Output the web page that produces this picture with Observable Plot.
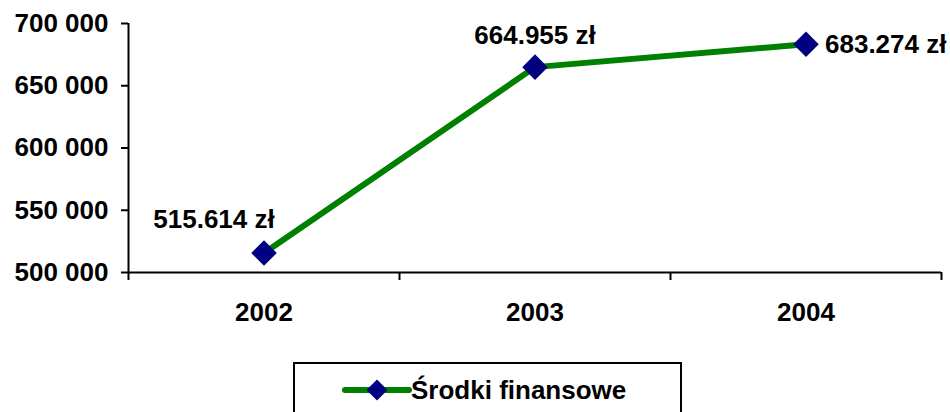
<!DOCTYPE html>
<html>
<head>
<meta charset="utf-8">
<script src="https://cdn.jsdelivr.net/npm/d3@7"></script>
<script src="https://cdn.jsdelivr.net/npm/@observablehq/plot@0.6"></script>
<style>
  html, body { margin: 0; padding: 0; background: #fff; width: 950px; height: 412px; overflow: hidden; }
  #chart { position: relative; width: 950px; height: 412px; font-family: Arial, "Liberation Sans", sans-serif; }
  #legend { position: absolute; left: 293px; top: 362px; width: 389px; height: 70px; border: 2px solid #000; box-sizing: border-box; }
  #legend svg { position: absolute; left: 0; top: 0; }
</style>
</head>
<body>
<div id="chart"></div>
<script>
const years = [2002, 2003, 2004];
const values = [515614, 664955, 683274];
const valueLabels = ["515.614 zł", "664.955 zł", "683.274 zł"];
const yTicks = [500000, 550000, 600000, 650000, 700000];
const seriesName = "Środki finansowe";

const data = years.map((y, i) => ({year: y, value: values[i], label: valueLabels[i]}));
const green = "#008000";
const navy = "#000080";
const font = "Arial, 'Liberation Sans', sans-serif";
const fs = 26;
const fmt = d => d3.format(",")(d).replace(/,/g, " ");
const boundaries = [years[0] - 0.5, ...years.map(y => y + 0.5)];

const chart = Plot.plot({
  width: 950,
  height: 345,
  marginLeft: 128,
  marginRight: 9,
  marginTop: 23,
  marginBottom: 73,
  style: {fontFamily: font, fontSize: fs + "px", fontWeight: "bold", color: "#000", background: "transparent"},
  x: {domain: [years[0] - 0.5, years[years.length - 1] + 0.5]},
  y: {domain: [yTicks[0], yTicks[yTicks.length - 1]]},
  marks: [
    Plot.axisY({ticks: yTicks, tickFormat: fmt, tickSize: 7, tickPadding: 13, strokeWidth: 2, label: null, fontSize: fs, fontWeight: "bold"}),
    Plot.axisX({ticks: years, tickFormat: d => String(d), tickSize: 0, tickPadding: 30, label: null, fontSize: fs, fontWeight: "bold"}),
    Plot.axisX({ticks: boundaries, tickFormat: () => "", tickSize: 8, strokeWidth: 2, label: null}),
    Plot.ruleY([yTicks[0]], {stroke: "#000", strokeWidth: 2}),
    Plot.ruleX([boundaries[0]], {y1: yTicks[0], y2: yTicks[yTicks.length - 1], stroke: "#000", strokeWidth: 2}),
    Plot.line(data, {x: "year", y: "value", stroke: green, strokeWidth: 6}),
    Plot.dot(data, {x: "year", y: "value", symbol: "diamond2", r: 11.5, fill: navy, stroke: null}),
    Plot.text(data.filter((d, i) => i === 0), {x: "year", y: "value", text: "label", dx: -50, dy: -33, fontSize: fs, fontWeight: "bold", fill: "#000"}),
    Plot.text(data.filter((d, i) => i === 1), {x: "year", y: "value", text: "label", dx: 0, dy: -31, fontSize: fs, fontWeight: "bold", fill: "#000"}),
    Plot.text(data.filter((d, i) => i === 2), {x: "year", y: "value", text: "label", dx: 19, dy: 0, textAnchor: "start", fontSize: fs, fontWeight: "bold", fill: "#000"})
  ]
});
const container = document.getElementById("chart");
container.appendChild(chart);

// Legend below the plot
const legend = document.createElement("div");
legend.id = "legend";
const ls = d3.create("svg").attr("width", 389).attr("height", 70);
ls.append("line").attr("x1", 50).attr("x2", 114).attr("y1", 26).attr("y2", 26)
  .attr("stroke", green).attr("stroke-width", 6).attr("stroke-linecap", "round");
ls.append("path").attr("d", d3.symbol(d3.symbolDiamond2, Math.PI * 9.5 * 9.5)()).attr("transform", "translate(82,26)").attr("fill", navy);
ls.append("text").attr("x", 116).attr("y", 26).attr("dy", "0.35em")
  .attr("font-family", font).attr("font-size", fs).attr("font-weight", "bold").attr("fill", "#000").text(seriesName);
legend.appendChild(ls.node());
container.appendChild(legend);
</script>
</body>
</html>
